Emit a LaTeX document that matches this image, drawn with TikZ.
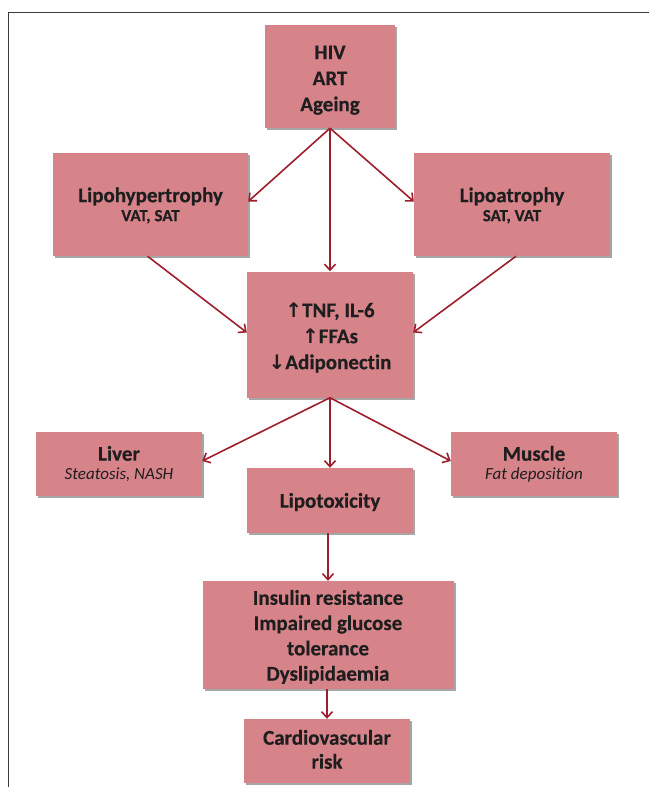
\documentclass[tikz,border=0pt]{standalone}
\usepackage{fontspec}
\setmainfont{Carlito}[Ligatures={NoCommon},BoldFeatures={FakeBold=0.35}]
\newfontfamily\arrowfont{DejaVu Sans}
\usetikzlibrary{arrows.meta,shadows}
\definecolor{boxpink}{RGB}{214,131,138}
\definecolor{arrred}{RGB}{158,30,46}
\definecolor{txt}{RGB}{30,30,30}
\definecolor{framec}{RGB}{60,60,60}
\newcommand{\upa}{{\arrowfont\fontsize{20}{26}\selectfont ↑}}
\newcommand{\dna}{{\arrowfont\fontsize{20}{26}\selectfont ↓}}
\newcommand{\lowtxt}[2]{\raisebox{-#1}[\height][\depth]{\begin{tabular}{@{}c@{}}#2\end{tabular}}}
\newcommand{\subfs}{\fontsize{17}{19}\selectfont}
\tikzset{
  pbox/.style={fill=boxpink, draw=none, inner sep=0pt, text=txt,
    font=\fontsize{21}{26}\selectfont\bfseries,
    drop shadow={shadow xshift=2pt, shadow yshift=-2pt, fill=black, opacity=0.35}},
  conn/.style={draw=arrred, line width=1.6pt, -{Straight Barb[length=6pt,width=11pt,line width=1.6pt]}},
}
\begin{document}
\begin{tikzpicture}[x=1pt,y=1pt]
\useasboundingbox (0,0) rectangle (649,-787);
\fill[white] (0,0) rectangle (649,-787);
\draw[framec, line width=0.9pt] (649,-12.7) -- (8.5,-12.7) -- (8.5,-787);

\node[pbox, minimum width=130pt, minimum height=103pt] (hiv) at (330,-76.5)
  {\lowtxt{3.5pt}{HIV\\ART\\Ageing}};
\node[pbox, minimum width=195pt, minimum height=103pt] (lh) at (150.5,-204.5)
  {\lowtxt{2pt}{Lipohypertrophy\\[-7pt]{\subfs VAT, SAT}}};
\node[pbox, minimum width=196pt, minimum height=103pt] (la) at (512,-204.5)
  {\lowtxt{2pt}{Lipoatrophy\\[-7pt]{\subfs SAT, VAT}}};
\node[pbox, minimum width=166pt, minimum height=126pt] (ctr) at (330,-334.5)
  {\lowtxt{3.5pt}{\upa TNF, IL-6\\\upa FFAs\\\dna Adiponectin}};
\node[pbox, minimum width=166pt, minimum height=64pt] (liv) at (119,-464)
  {\lowtxt{1pt}{Liver\\[-7pt]{\subfs\mdseries\itshape Steatosis, NASH}}};
\node[pbox, minimum width=166pt, minimum height=64pt] (mus) at (534,-464)
  {\lowtxt{1pt}{Muscle\\[-7pt]{\subfs\mdseries\itshape Fat deposition}}};
\node[pbox, minimum width=166pt, minimum height=65pt] (ltx) at (330,-500.5)
  {\lowtxt{2pt}{Lipotoxicity}};
\node[pbox, minimum width=251pt, minimum height=108pt] (ins) at (328,-635)
  {\lowtxt{2.5pt}{Insulin resistance\\[-0.7pt]Impaired glucose\\[-0.7pt]tolerance\\[-0.7pt]Dyslipidaemia}};
\node[pbox, minimum width=166pt, minimum height=64pt] (cv) at (327,-751)
  {\lowtxt{0.5pt}{Cardiovascular\\[-2pt]risk}};

\draw[conn] (hiv.south) -- ([yshift=3pt]lh.east);
\draw[conn] (hiv.south) -- ([yshift=3pt]la.west);
\draw[conn] (hiv.south) -- (ctr.north);
\draw[conn] ([xshift=-3pt]lh.south) -- ([yshift=2pt]ctr.west);
\draw[conn] ([xshift=4pt]la.south) -- ([yshift=2pt]ctr.east);
\draw[conn] (ctr.south) -- ([yshift=3pt]liv.east);
\draw[conn] (ctr.south) -- ([yshift=3pt]mus.west);
\draw[conn] (ctr.south) -- (ltx.north);
\draw[conn] (ltx.south -| ins.north) -- (ins.north);
\draw[conn] (ins.south -| cv.north) -- (cv.north);
\end{tikzpicture}
\end{document}
